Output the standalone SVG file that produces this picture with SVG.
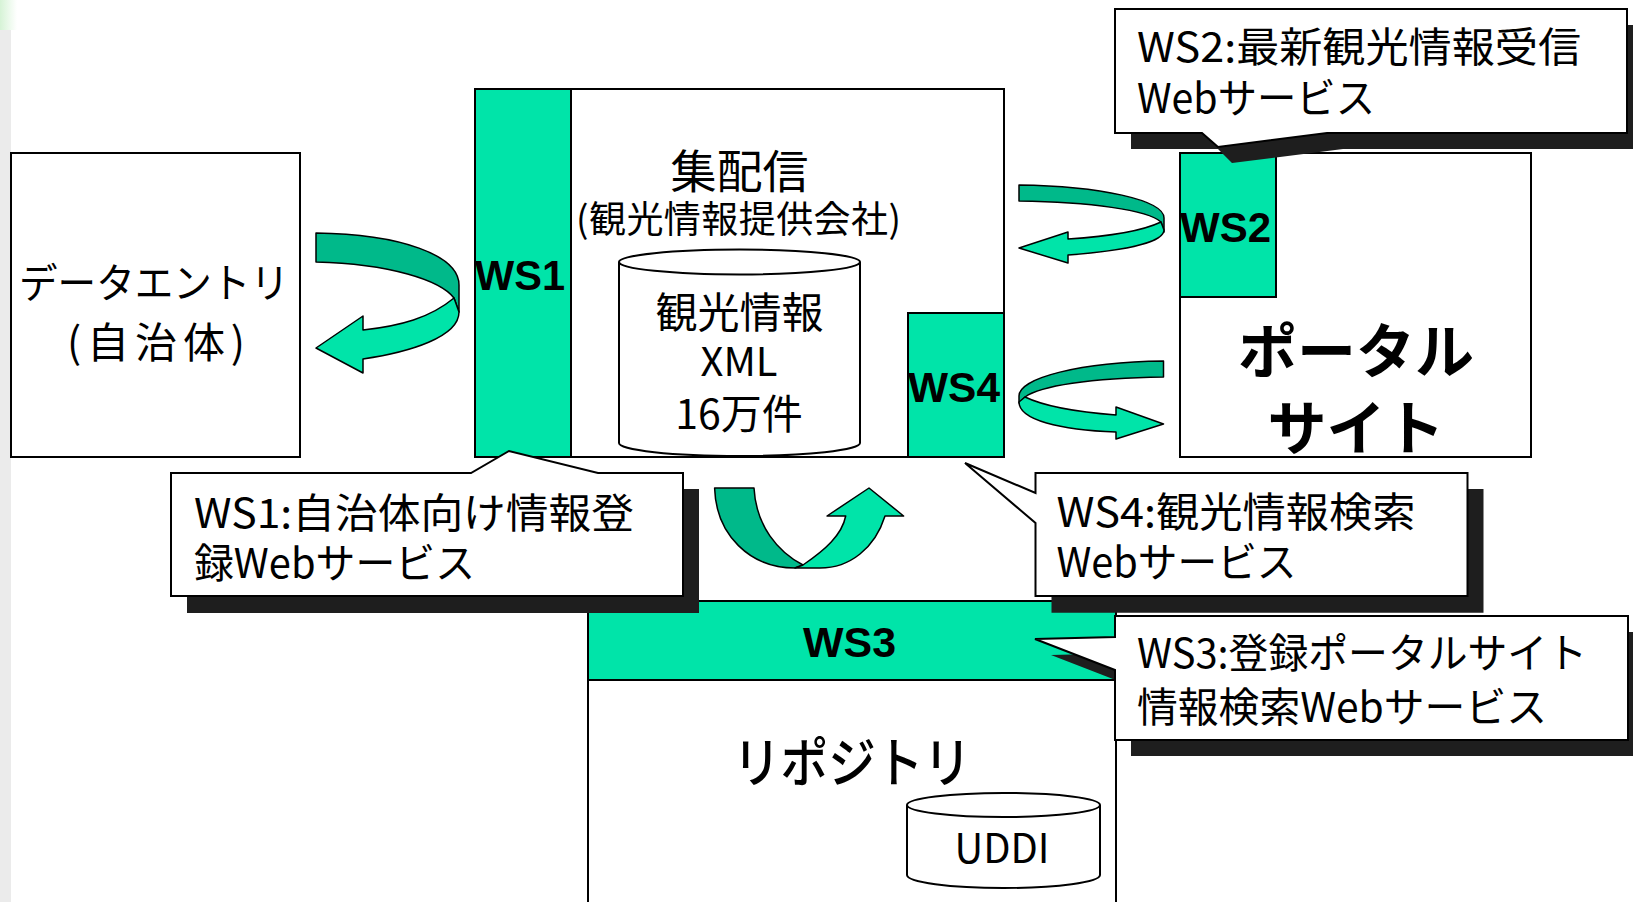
<svg xmlns="http://www.w3.org/2000/svg" width="1633" height="902" viewBox="0 0 1633 902">
<defs>
<linearGradient id="tl" x1="0" y1="0" x2="1" y2="0">
<stop offset="0" stop-color="#d6f3d6"/>
<stop offset="1" stop-color="#ffffff"/>
</linearGradient>
</defs>
<style>
.box{fill:#ffffff;stroke:#000;stroke-width:2}
.ws{fill:#00e4a9;stroke:#000;stroke-width:2}
.dk{fill:#00b98a;stroke:#000;stroke-width:1.5;stroke-linejoin:round}
.lt{fill:#00e4a9;stroke:#000;stroke-width:1.5;stroke-linejoin:round}
.sh{fill:#1e1e1e}
.co{fill:#ffffff;stroke:#000;stroke-width:2;stroke-linejoin:miter}
.jp{font-family:"Noto Sans CJK JP","Noto Sans",sans-serif;fill:#000}
.wsl{font-family:"Liberation Sans",Arial,sans-serif;font-weight:bold;font-size:42px;fill:#000}
.ct{font-family:"Noto Sans CJK JP","Noto Sans",sans-serif;font-size:41px;fill:#000}
</style>
<rect x="0" y="0" width="17" height="30" fill="url(#tl)"/>
<rect x="0" y="30" width="11" height="872" fill="#ebebeb"/>

<g id="data-entry">
<rect class="box" x="11" y="153" width="289" height="304"/>
<text class="jp" x="154" y="298" font-size="41" text-anchor="middle" textLength="270" lengthAdjust="spacingAndGlyphs">データエントリ</text>
<text class="jp" x="156" y="358" font-size="42" text-anchor="middle" textLength="178" lengthAdjust="spacing">(自治体)</text>
</g>

<g id="hub">
<rect class="box" x="475" y="89" width="529" height="368"/>
<text class="jp" x="739.5" y="188" font-size="46" text-anchor="middle">集配信</text>
<text class="jp" x="738.5" y="233" font-size="37" text-anchor="middle" textLength="325" lengthAdjust="spacing">(観光情報提供会社)</text>
</g>

<g id="ws1">
<rect class="ws" x="475" y="89" width="96" height="368"/>
<text class="wsl" x="475" y="290" textLength="90" lengthAdjust="spacingAndGlyphs">WS1</text>
</g>

<g id="tourism-db">
<path class="box" d="M619,262 L619,443 A120.5,13 0 0 0 860,443 L860,262"/>
<ellipse class="box" cx="739.5" cy="262" rx="120.5" ry="12.5"/>
<text class="jp" x="739.5" y="328" font-size="42" text-anchor="middle">観光情報</text>
<text class="jp" x="739" y="376" font-size="40" text-anchor="middle" textLength="77" lengthAdjust="spacingAndGlyphs">XML</text>
<text class="jp" x="739" y="429" font-size="41" text-anchor="middle">16万件</text>
</g>

<g id="ws4">
<rect class="ws" x="908" y="313" width="96" height="144"/>
<text class="wsl" x="908" y="401.7" textLength="92" lengthAdjust="spacingAndGlyphs">WS4</text>
</g>

<g id="portal">
<rect class="box" x="1180" y="153" width="351" height="304"/>
<text class="jp" x="1356" y="373" font-size="59" font-weight="bold" text-anchor="middle">ポータル</text>
<text class="jp" x="1356" y="450" font-size="59" font-weight="bold" text-anchor="middle">サイト</text>
</g>

<g id="ws2">
<rect class="ws" x="1180" y="153" width="96" height="144"/>
<text class="wsl" x="1180" y="241.7" textLength="91" lengthAdjust="spacingAndGlyphs">WS2</text>
</g>

<g id="repository">
<rect class="box" x="588" y="601" width="528" height="320"/>
<text class="jp" x="852" y="783" font-size="54" font-weight="500" text-anchor="middle" textLength="238" lengthAdjust="spacingAndGlyphs">リポジトリ</text>
</g>

<g id="ws3">
<rect class="ws" x="588" y="601" width="528" height="79"/>
<text class="wsl" x="803" y="657.3" textLength="93" lengthAdjust="spacingAndGlyphs">WS3</text>
</g>

<g id="uddi">
<path class="box" d="M907,805 L907,875 A96.5,13 0 0 0 1100,875 L1100,805"/>
<ellipse class="box" cx="1003.5" cy="805" rx="96.5" ry="12"/>
<text class="jp" x="1002" y="862.7" font-size="41" text-anchor="middle" textLength="95" lengthAdjust="spacingAndGlyphs">UDDI</text>
</g>

<g id="connectors">
<path class="dk" d="M316,233 L316,262 C390,264 440,280 454,298 L459,312 L459,285 C459,255 400,234 316,233 Z"/>
<path class="lt" d="M454,298 C430,318 400,326 363,330 L363,316 L316,348 L363,373 L363,359 C410,352 459,337 459,312 Z"/>
<path class="dk" d="M1019,185 L1019,201 C1090,202 1148,210 1161,222 L1164,232 L1164,218 C1164,200 1100,186 1019,185 Z"/>
<path class="lt" d="M1161,222 C1140,232 1100,237 1068,239 L1068,232 L1019,248 L1068,263 L1068,255 C1120,251 1164,243 1164,230 Z"/>
<path class="dk" d="M1163.5,361 L1163.5,377 C1090,378 1040,386 1025,397 L1019,403 L1019,396 C1019,378 1080,362 1163.5,361 Z"/>
<path class="lt" d="M1025,397 C1050,409 1090,413 1116,415 L1116,407 L1163.5,424 L1116,439 L1116,432 C1060,430 1019,420 1019,402 Z"/>
<path class="dk" d="M714.6,488 L754,488 C756,526 778,552 803,565 L795,568 C750,568 716,535 714.6,488 Z"/>
<path class="lt" d="M803,565 C825,550 842,535 845.7,516 L827,516 L869,488 L903.6,516 L885,516 C875,548 850,568 820,568 L795,568 Z"/>
</g>

<g id="callout-ws1">
<path class="sh" d="M187,489 L487,489 L525,467 L614,489 L699,489 L699,613 L187,613 Z"/>
<path class="co" d="M171,473 L471,473 L509,451 L598,473 L683,473 L683,596 L171,596 Z"/>
<text class="ct" x="194" y="528" textLength="440" lengthAdjust="spacingAndGlyphs">WS1:自治体向け情報登</text>
<text class="ct" x="194" y="578" textLength="281" lengthAdjust="spacingAndGlyphs">録Webサービス</text>
</g>

<g id="callout-ws2">
<path class="sh" d="M1131,25 L1643,25 L1643,149 L1343,149 L1232,163 L1218,149 L1131,149 Z"/>
<path class="co" d="M1115,9 L1627,9 L1627,133 L1327,133 L1218,147 L1202,133 L1115,133 Z"/>
<text class="ct" x="1137" y="62" textLength="444" lengthAdjust="spacingAndGlyphs">WS2:最新観光情報受信</text>
<text class="ct" x="1137" y="113" textLength="238" lengthAdjust="spacingAndGlyphs">Webサービス</text>
</g>

<g id="callout-ws4">
<path class="sh" d="M1051.5,489 L1483.5,489 L1483.5,612.7 L1051.5,612.7 Z"/>
<path class="co" d="M1035.5,473 L1467.5,473 L1467.5,596 L1035.5,596 L1035.5,523 L965,463 L1035.5,493 Z"/>
<text class="ct" x="1056.5" y="527" textLength="359" lengthAdjust="spacingAndGlyphs">WS4:観光情報検索</text>
<text class="ct" x="1056.5" y="577" textLength="240" lengthAdjust="spacingAndGlyphs">Webサービス</text>
</g>

<g id="callout-ws3">
<path class="sh" d="M1131,632 L1644,632 L1644,756 L1131,756 L1131,686 L1051,655 L1131,653 Z"/>
<path class="co" d="M1115,616 L1628,616 L1628,740 L1115,740 L1115,670 L1035,639 L1115,637 Z"/>
<text class="ct" x="1137" y="668" textLength="450" lengthAdjust="spacingAndGlyphs">WS3:登録ポータルサイト</text>
<text class="ct" x="1137" y="722" textLength="410" lengthAdjust="spacingAndGlyphs">情報検索Webサービス</text>
</g>
</svg>
